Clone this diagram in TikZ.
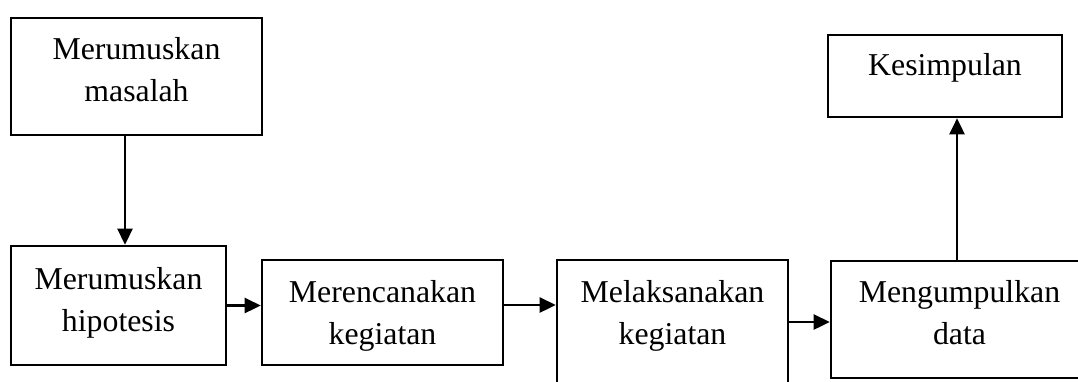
\documentclass[tikz,border=0pt]{standalone}
\usepackage{fontspec}
\setmainfont{Liberation Serif}
\usetikzlibrary{arrows.meta}
\tikzset{
  box/.style={draw, line width=2.6pt, rectangle, inner sep=0pt},
  txt/.style={inner sep=0pt, anchor=base, font=\fontsize{31.8}{42}\selectfont},
  arr/.style={line width=2.6pt, -{Triangle[length=16pt,width=15pt]}}
}
\newcommand{\twoline}[2]{\begin{tabular}[t]{@{}c@{}}#1\\#2\end{tabular}}
\begin{document}
\begin{tikzpicture}[x=1pt,y=-1pt]
\useasboundingbox (0,0) rectangle (1078,381);
\fill[white] (0,0) rectangle (1078,381);
\clip (0,0) rectangle (1078,381);
% boxes
\node[box, minimum width=251pt, minimum height=117pt] (b1) at (136.5,76.5) {};
\node[box, minimum width=215pt, minimum height=119pt] (b2) at (118.5,305.5) {};
\node[box, minimum width=241pt, minimum height=105pt] (b3) at (382.5,312.5) {};
\node[box, minimum width=231pt, minimum height=170pt] (b4) at (672.5,345) {};
\node[box, minimum width=259pt, minimum height=117pt] (b5) at (960.5,319.5) {};
\node[box, minimum width=234pt, minimum height=82pt] (b6) at (945,76) {};
% texts
\node[txt] (t1) at (136.5,59) {\twoline{Merumuskan}{masalah}};
\node[txt] (t2) at (118.5,289) {\twoline{Merumuskan}{hipotesis}};
\node[txt] (t3) at (382.5,302) {\twoline{Merencanakan}{kegiatan}};
\node[txt] (t4) at (672.5,302) {\twoline{Melaksanakan}{kegiatan}};
\node[txt] (t5) at (959.5,302) {\twoline{Mengumpulkan}{data}};
\node[txt] (t6) at (945,75) {Kesimpulan};
% connectors
\draw[arr] ([xshift=-11.5pt]b1.south) -- ([xshift=-11.5pt]b1.south |- b2.north);
\draw[arr] (b2.east) -- (b2.east -| b3.west);
\draw[arr] ([yshift=7.5pt]b3.east) -- ([yshift=7.5pt]b3.east -| b4.west);
\draw[arr] ([yshift=-2.5pt]b5.west -| b4.east) -- ([yshift=-2.5pt]b5.west);
\draw[arr] ([xshift=12pt]b6.south |- b5.north) -- ([xshift=12pt]b6.south);
\end{tikzpicture}
\end{document}
